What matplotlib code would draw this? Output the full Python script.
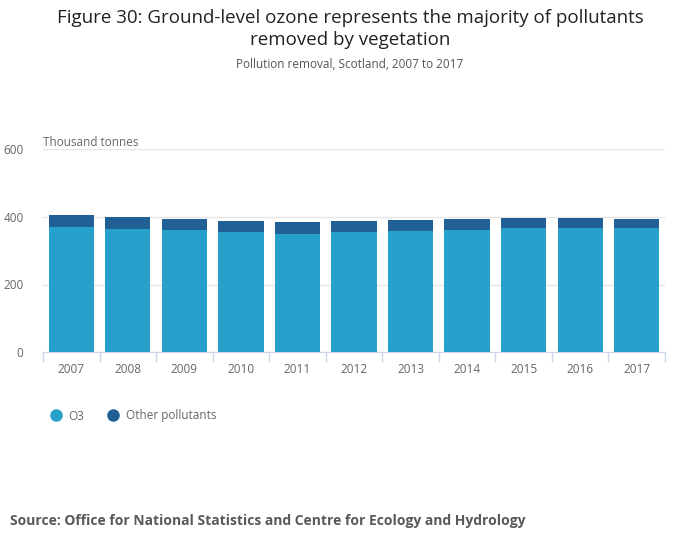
import numpy as np
from matplotlib import pyplot as plt

plt.rcParams['font.family'] = ['Open Sans', 'DejaVu Sans']

years = ['2007', '2008', '2009', '2010', '2011', '2012', '2013', '2014', '2015', '2016', '2017']
o3 = [370, 364.5, 361.5, 356, 350, 356, 358.5, 361.5, 367.5, 367.5, 367.5]
other = [36, 35.5, 32.5, 32, 35, 32, 32.5, 32.5, 29.5, 29.5, 26.5]

c_o3 = '#27a0cc'
c_other = '#206095'
grey = '#666666'

W, H = 700, 549
fig = plt.figure(figsize=(W/100, H/100), dpi=100)
# plot area in pixels: x 43..665, y 149..352
ax = fig.add_axes([43/W, 1-352/H, (665-43)/W, (352-149.5)/H])

x = np.arange(len(years))
ax.bar(x, o3, width=0.8, color=c_o3, zorder=3)
ax.bar(x, other, width=0.8, bottom=o3, color=c_other, zorder=3)

ax.set_xlim(-0.5, len(years)-0.5)
ax.set_ylim(0, 600)
ax.set_yticks([0, 200, 400, 600])
ax.yaxis.grid(True, color='#e6e6e6', linewidth=1, zorder=0)
for s in ['top', 'right', 'left']:
    ax.spines[s].set_visible(False)
ax.spines['bottom'].set_color('#ccd6eb')
ax.tick_params(axis='y', length=0, labelsize=8.5, labelcolor=grey, pad=14)
ax.set_xticks(x)
ax.set_xticklabels(years)
ax.tick_params(axis='x', length=0, labelsize=8.5, labelcolor=grey, pad=8)
ax.set_xticks(np.arange(-0.5, len(years)), minor=True)
ax.tick_params(axis='x', which='minor', length=7, color='#ccd6eb', width=1)

fig.text(43/W, 1-142/H, 'Thousand tonnes', fontsize=8.5, color=grey, va='center')

fig.text(0.5, 1-29/H, 'Figure 30: Ground-level ozone represents the majority of pollutants\nremoved by vegetation',
         ha='center', va='center', fontsize=13.5, color='#222222', linespacing=1.25)
fig.text(0.5, 1-64/H, 'Pollution removal, Scotland, 2007 to 2017', ha='center', va='center',
         fontsize=8.5, color='#555555')

# legend
fig.lines.append(plt.Line2D([56/W], [1-415/H], marker='o', markersize=8, color=c_o3,
                            transform=fig.transFigure))
fig.text(68/W, 1-416/H, 'O3', fontsize=8.5, color=grey, va='center')
fig.lines.append(plt.Line2D([113/W], [1-415/H], marker='o', markersize=8, color=c_other,
                            transform=fig.transFigure))
fig.text(126/W, 1-416/H, 'Other pollutants', fontsize=8.5, color=grey, va='center')

fig.text(10/W, 1-521/H, 'Source: Office for National Statistics and Centre for Ecology and Hydrology',
         fontsize=10, fontweight='bold', color='#595959', va='center')

fig.savefig('out.png', dpi=100)
